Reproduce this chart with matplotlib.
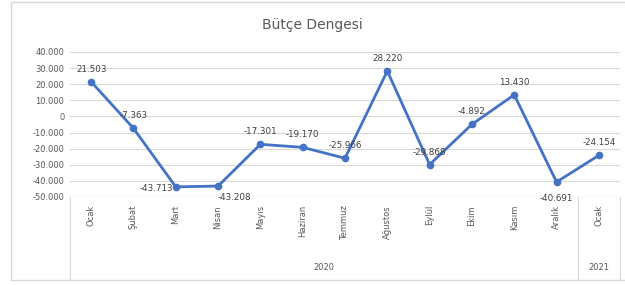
import matplotlib.pyplot as plt
from matplotlib.ticker import FuncFormatter
from matplotlib.patches import Rectangle
from matplotlib.lines import Line2D

# Monthly budget balance (million TL)
months = ['Ocak', 'Şubat', 'Mart', 'Nisan', 'Mayıs', 'Haziran', 'Temmuz',
          'Ağustos', 'Eylül', 'Ekim', 'Kasım', 'Aralık', 'Ocak']
values = [21503, -7363, -43713, -43208, -17301, -19170, -25966,
          28220, -29868, -4892, 13430, -40691, -24154]
labels = ['21.503', '-7.363', '-43.713', '-43.208', '-17.301', '-19.170', '-25.966',
          '28.220', '-29.868', '-4.892', '13.430', '-40.691', '-24.154']
years = ['2020', '2021']
year_counts = [12, 1]

line_col = '#4472C4'
text_col = '#595959'

fig = plt.figure(figsize=(6.25, 2.85), dpi=100)
ax = fig.add_axes([70 / 625, 88 / 285, 550 / 625, 145 / 285])

x = list(range(len(values)))
ax.plot(x, values, color=line_col, linewidth=2, marker='o', markersize=4.5, zorder=3)

ax.set_xlim(-0.5, len(values) - 0.5)
ax.set_ylim(-50000, 40000)
ax.set_yticks(range(-50000, 40001, 10000))
ax.yaxis.set_major_formatter(FuncFormatter(lambda v, p: f'{int(v):,}'.replace(',', '.')))
ax.tick_params(axis='y', labelsize=6, colors=text_col, length=0, pad=4)
ax.set_xticks([])
ax.grid(axis='y', color='#d9d9d9', linewidth=0.8)
ax.set_axisbelow(True)
for s in ax.spines.values():
    s.set_visible(False)
ax.axhline(-50000, color='#d9d9d9', linewidth=0.8)

# data labels
offsets = {2: (-14, -1), 3: (12, -8), 11: (0, -12)}
for i, (v, lab) in enumerate(zip(values, labels)):
    dx, dy = offsets.get(i, (0, 9))
    ax.annotate(lab, (i, v), xytext=(dx, dy), textcoords='offset points',
                ha='center', va='center', fontsize=6.3, color='#404040')

# month labels (rotated)
for i, m in enumerate(months):
    ax.text(i, -55000, m, rotation=90, ha='center', va='top', fontsize=6,
            color=text_col, clip_on=False)

# year labels and separators
start = 0
for yr, cnt in zip(years, year_counts):
    center = start + (cnt - 1) / 2
    ax.text(center, -94000, yr, ha='center', va='center', fontsize=6, color=text_col,
            clip_on=False)
    start += cnt
for b in [-0.5, 11.5, 12.5]:
    ax.add_line(Line2D([b, b], [-50000, -101000], color='#d9d9d9', linewidth=0.8,
                       clip_on=False))

fig.text(0.5, 1 - 25 / 285, 'Bütçe Dengesi', ha='center', va='center',
         fontsize=10, color=text_col)
fig.patches.append(Rectangle((11 / 625, 5 / 285), 620 / 625, 278 / 285,
                             transform=fig.transFigure, fill=False,
                             edgecolor='#d9d9d9', linewidth=1))

fig.savefig('out.png', dpi=100)
